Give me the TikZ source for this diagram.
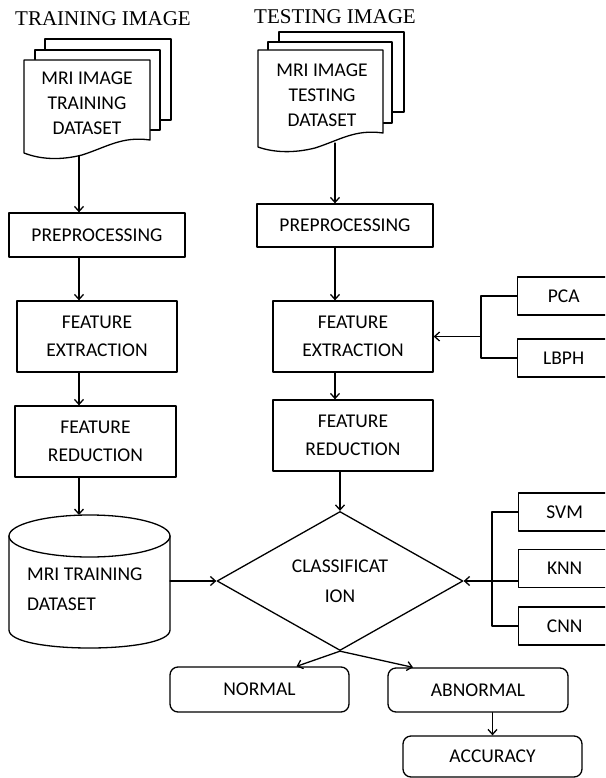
\documentclass[tikz,border=0pt]{standalone}
\usepackage{fontspec}
\setmainfont{Carlito}
\newfontfamily\titlefont{Liberation Serif}
\usetikzlibrary{arrows.meta,shapes.geometric}
\tikzset{
  every picture/.append style={line cap=round,line join=round},
  mri line/.style={line width=1.3pt},
  mri box/.style={draw,mri line,rectangle,inner sep=0pt,align=center,font=\fontsize{19.5}{28}\selectfont},
  mri round/.style={mri box,rounded corners=8pt},
  mri side/.style={mri box,anchor=west,minimum width=92pt,minimum height=38pt},
  mri sheet/.style={draw,fill=white,mri line},
  mri text/.style={align=center,inner sep=0pt,font=\fontsize{19.5}{25}\selectfont},
  mri title/.style={inner sep=0pt,font=\titlefont\fontsize{21}{25}\selectfont},
  mri arrow/.style={mri line,-{Straight Barb[length=5pt,width=9pt]}}
}
\begin{document}
\begin{tikzpicture}[x=1pt,y=-1pt]
\useasboundingbox (0,0) rectangle (605,778);
\clip (0,0) rectangle (605,778);
% titles
\node[mri title] (ltitle) at (103,19) {TRAINING IMAGE};
\node[mri title] (ttitle) at (335,17) {TESTING IMAGE};
% training stack
\draw[mri sheet] (45,39) rectangle (171,120);
\draw[mri sheet] (35,50) rectangle (160,130);
\draw[mri sheet] (24,60) -- (150,60) -- (150,140) .. controls (122,136) and (107,147) .. (82,155) .. controls (62,160) and (42,160) .. (24,153) -- cycle;
\node[mri text] (ldoc) at (87,103) {MRI IMAGE\\TRAINING\\DATASET};
\coordinate (ldocb) at (79,156);
% testing stack
\draw[mri sheet] (279,32) rectangle (404,112);
\draw[mri sheet] (268,42) rectangle (392,123);
\draw[mri sheet] (258,50) -- (383,50) -- (383,133) .. controls (355,129) and (340,140) .. (315,148) .. controls (295,153) and (275,153) .. (258,147) -- cycle;
\node[mri text] (tdoc) at (322,95) {MRI IMAGE\\TESTING\\DATASET};
\coordinate (tdocb) at (335,143);
% left column
\coordinate (lx) at (79,0);
\node[mri box,minimum width=176pt,minimum height=44pt] (lpre) at (97,235) {PREPROCESSING};
\node[mri box,minimum width=160pt,minimum height=71pt] (lfe) at (97,336.5) {FEATURE\\EXTRACTION};
\node[mri box,minimum width=161pt,minimum height=71pt] (lfr) at (95.5,441.5) {FEATURE\\REDUCTION};
% database
\draw[mri sheet] (9,536) -- (9,630) .. controls (9,654) and (170,654) .. (170,630) -- (170,536);
\draw[mri sheet] (89.5,536) ellipse [x radius=80.5pt,y radius=21pt];
\node[mri text,align=left,anchor=west,font=\fontsize{19.5}{30}\selectfont] (ltrain) at (27,589) {MRI TRAINING\\DATASET};
\coordinate (ltraint) at (79,515);
\coordinate (ltraine) at (170,581);
% right column
\coordinate (tx) at (335,0);
\node[mri box,minimum width=176pt,minimum height=43pt] (tpre) at (345,225.5) {PREPROCESSING};
\node[mri box,minimum width=160pt,minimum height=71pt] (tfe) at (353,336.5) {FEATURE\\EXTRACTION};
\node[mri box,minimum width=160pt,minimum height=71pt] (tfr) at (353,435.5) {FEATURE\\REDUCTION};
\node[draw,mri line,diamond,minimum width=246pt,minimum height=132pt,inner sep=0pt,align=center,font=\fontsize{19.5}{30}\selectfont] (cls) at (340,581) {CLASSIFICAT\\ION};
% outcomes
\node[mri round,minimum width=179pt,minimum height=45pt] (normal) at (259.5,689.5) {NORMAL};
\node[mri round,minimum width=180pt,minimum height=44pt] (abnormal) at (478,690) {ABNORMAL};
\node[mri round,minimum width=179pt,minimum height=41pt] (acc) at (492.5,756.5) {ACCURACY};
% methods
\node[mri side] (pca) at (517,296) {PCA};
\node[mri side] (lbph) at (517,358) {LBPH};
\node[mri side] (svm) at (518,512) {SVM};
\node[mri side] (knn) at (518,568.5) {KNN};
\node[mri side] (cnn) at (518,626) {CNN};
\coordinate (fbr) at (481,0);
\coordinate (cbr) at (492,0);
% connectors
\draw[mri arrow] (ldocb) -- (lpre.north -| lx);
\draw[mri arrow] (lpre.south -| lx) -- (lfe.north -| lx);
\draw[mri arrow] (lfe.south -| lx) -- (lfr.north -| lx);
\draw[mri arrow] (lfr.south -| lx) -- (ltraint);
\draw[mri arrow] (ltraine) -- (cls.west);
\draw[mri arrow] (tdocb) -- (tpre.north -| tx);
\draw[mri arrow] (tpre.south -| tx) -- (tfe.north -| tx);
\draw[mri arrow] (tfe.south -| tx) -- (tfr.north -| tx);
\draw[mri arrow] (tfr.south -| cls.north) -- (cls.north);
\draw[mri line] (pca.west) -- (pca.west -| fbr) -- (lbph.west -| fbr) -- (lbph.west);
\draw[mri arrow] (tfe.east -| fbr) -- (tfe.east);
\draw[mri line] (svm.west) -- (svm.west -| cbr) -- (cnn.west -| cbr) -- (cnn.west);
\draw[mri arrow] (knn.west |- cls.east) -- (cls.east);
\draw[mri arrow] (cls.south) -- ([xshift=37pt]normal.north);
\draw[mri arrow] (cls.south) -- ([xshift=-65pt]abnormal.north);
\draw[mri arrow] (abnormal.south -| acc.north) -- (acc.north);
\end{tikzpicture}
\end{document}
